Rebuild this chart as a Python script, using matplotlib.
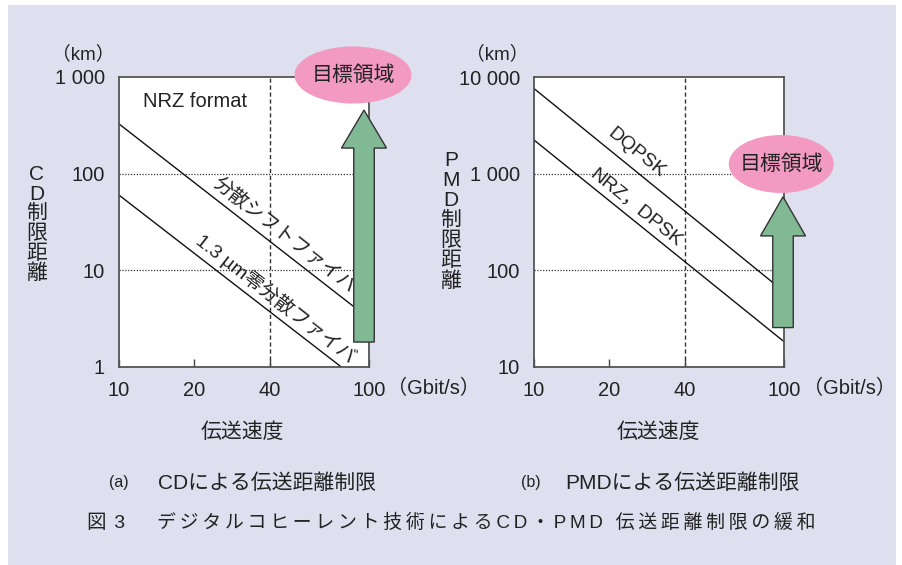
import matplotlib
matplotlib.use('Agg')
import matplotlib.pyplot as plt
from matplotlib.patches import Ellipse, FancyArrow, Rectangle

plt.rcParams['font.family'] = ['Liberation Sans', 'Noto Sans CJK JP', 'DejaVu Sans']

W, H = 903, 565

# values
rate_ticks = [10, 20, 40, 100]
rate_labels = ['10', '20', '40', '100']

cd_ticks = [1, 10, 100, 1000]
cd_labels = ['1', '10', '100', '1 000']
dsf_rate = [10, 86]
dsf_dist = [327, 4.3]
smf_rate = [10, 77.5]
smf_dist = [60, 1]

pmd_ticks = [10, 100, 1000, 10000]
pmd_labels = ['10', '100', '1 000', '10 000']
dqpsk_rate = [10, 89.5]
dqpsk_dist = [7600, 76]
nrz_rate = [10, 100]
nrz_dist = [2230, 18.3]

cd_grid = [10, 100]
pmd_grid = [100, 1000]
rate_grid = [40]

TXT = '#222222'
LAV = '#dfe0ef'
PINK = '#f29ac2'
GREEN = '#82b995'


def px(x, y):
    # pixel position -> figure fraction
    return x / W, 1 - y / H


fig = plt.figure(figsize=(W / 100, H / 100), dpi=100)
fig.patch.set_facecolor('white')
fig.patches.append(Rectangle((8 / W, 0), 888 / W, 560 / H, transform=fig.transFigure,
                             facecolor=LAV, edgecolor='none', zorder=-10))

ax1 = fig.add_axes([119 / W, 1 - 367 / H, 250 / W, 290 / H])
ax2 = fig.add_axes([534 / W, 1 - 367 / H, 250 / W, 290 / H])


def setup(ax, yticks, ylabels, hgrid):
    ax.set_xscale('log')
    ax.set_yscale('log')
    ax.set_xlim(10, 100)
    ax.set_ylim(yticks[0], yticks[-1])
    ax.set_facecolor('white')
    ax.set_xticks(rate_ticks)
    ax.set_xticklabels(rate_labels)
    ax.set_xticks([], minor=True)
    ax.set_yticks(yticks)
    ax.set_yticklabels(ylabels)
    ax.set_yticks([], minor=True)
    ax.tick_params(axis='x', direction='in', length=6, width=1, color='#444444',
                   labelsize=14.5, labelcolor=TXT, pad=10)
    ax.tick_params(axis='y', length=0, labelsize=14.5, labelcolor=TXT, pad=10)
    for s in ax.spines.values():
        s.set_color('#555555')
        s.set_linewidth(1.3)
    for v in hgrid:
        ax.axhline(v, color='#333333', lw=0.9, ls=(0, (1, 1.3)), zorder=1)
    for v in rate_grid:
        ax.axvline(v, color='#333333', lw=1.0, ls=(0, (3, 2)), zorder=1)


setup(ax1, cd_ticks, cd_labels, cd_grid)
setup(ax2, pmd_ticks, pmd_labels, pmd_grid)

# left panel: CD
ax1.plot(dsf_rate, dsf_dist, color='#111111', lw=1.0, zorder=2)
ax1.plot(smf_rate, smf_dist, color='#111111', lw=1.0, zorder=2)
ax1.text(0.096, 0.917, 'NRZ format', transform=ax1.transAxes, fontsize=14.5,
         color=TXT, ha='left', va='center')
ax1.text(45.6, 23.0, '分散シフトファイバ', fontsize=14, color=TXT, rotation=-38,
         rotation_mode='anchor', ha='center', va='center')
ax1.text(42.5, 5.06, '1.3 µm零分散ファイバ', fontsize=14, color=TXT, rotation=-38,
         rotation_mode='anchor', ha='center', va='center')

# right panel: PMD
ax2.text(25.6, 1637, 'DQPSK', fontsize=14, color=TXT, rotation=-39,
         rotation_mode='anchor', ha='center', va='center')
ax2.text(25.7, 442, 'NRZ，DPSK', fontsize=14, color=TXT, rotation=-39,
         rotation_mode='anchor', ha='center', va='center')
ax2.plot(dqpsk_rate, dqpsk_dist, color='#111111', lw=1.0, zorder=2)
ax2.plot(nrz_rate, nrz_dist, color='#111111', lw=1.0, zorder=2)

# target arrows and ellipses
for ax, xc, y0, y1, hl in [(ax1, 0.98, 0.086, 0.886, 0.131),
                           (ax2, 0.996, 0.136, 0.587, 0.135)]:
    arr = FancyArrow(xc, y0, 0, y1 - y0, width=0.082, head_width=0.18,
                     head_length=hl, length_includes_head=True,
                     transform=ax.transAxes, facecolor=GREEN,
                     edgecolor='#333333', lw=1.0, clip_on=False, zorder=5)
    ax.add_patch(arr)

for ax, xc, yc, w, h in [(ax1, 0.936, 1.007, 0.468, 0.197),
                         (ax2, 0.989, 0.70, 0.42, 0.20)]:
    ax.add_patch(Ellipse((xc, yc), w, h, transform=ax.transAxes, facecolor=PINK,
                         edgecolor='none', clip_on=False, zorder=6))
    ax.text(xc, yc, '目標領域', transform=ax.transAxes, fontsize=15, color=TXT,
            ha='center', va='center', zorder=7)

# axis units and labels
fig.text(*px(83, 54), '（km）', fontsize=13.5, color=TXT, ha='center', va='center')
fig.text(*px(497, 54), '（km）', fontsize=13.5, color=TXT, ha='center', va='center')
fig.text(*px(387, 388), '（Gbit/s）', fontsize=14.5, color=TXT, ha='left', va='center')
fig.text(*px(803, 388), '（Gbit/s）', fontsize=14.5, color=TXT, ha='left', va='center')

fig.text(*px(37, 224), '\n'.join('CD制限距離'), fontsize=15, color=TXT,
         ha='center', va='center', linespacing=1.04)
fig.text(*px(451, 221), '\n'.join('PMD制限距離'), fontsize=15, color=TXT,
         ha='center', va='center', linespacing=1.07)

fig.text(*px(242, 432), '伝送速度', fontsize=15, color=TXT, ha='center', va='center')
fig.text(*px(658, 432), '伝送速度', fontsize=15, color=TXT, ha='center', va='center')

fig.text(*px(119, 483), '(a)', fontsize=11.5, color=TXT, ha='center', va='center')
fig.text(*px(158, 483), 'CDによる伝送距離制限', fontsize=15, color=TXT,
         ha='left', va='center')
fig.text(*px(531, 483), '(b)', fontsize=11.5, color=TXT, ha='center', va='center')
fig.text(*px(565, 483), 'PMDによる伝送距離制限', fontsize=15, color=TXT,
         ha='left', va='center')

caption = 'デジタルコヒーレント技術によるCD・PMD 伝送距離制限の緩和'
fig.text(*px(87, 523), '図\u2009\u20093', fontsize=14, color=TXT, ha='left', va='center')
fig.text(*px(157, 523), '\u2009'.join(caption), fontsize=13.6, color=TXT,
         ha='left', va='center')

fig.savefig('out.png', dpi=100, facecolor=fig.get_facecolor())
